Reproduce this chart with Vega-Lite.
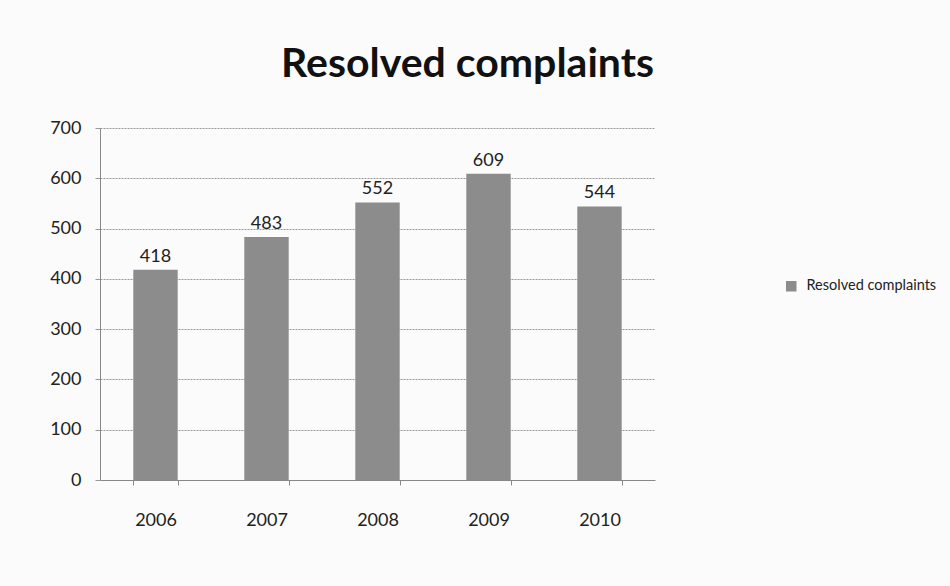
{
  "$schema": "https://vega.github.io/schema/vega-lite/v6.json",
  "autosize": "none",
  "width": 555,
  "height": 352,
  "padding": {"left": 100, "top": 128, "right": 295, "bottom": 106},
  "background": "#fbfbfb",
  "title": {
    "text": "Resolved complaints",
    "fontSize": 41,
    "font": "Lato",
    "fontWeight": "bold",
    "color": "#111111",
    "anchor": "middle",
    "dx": 90,
    "offset": 33
  },
  "data": {
    "values": [
      {"year": "2006", "value": 418, "series": "Resolved complaints"},
      {"year": "2007", "value": 483, "series": "Resolved complaints"},
      {"year": "2008", "value": 552, "series": "Resolved complaints"},
      {"year": "2009", "value": 609, "series": "Resolved complaints"},
      {"year": "2010", "value": 544, "series": "Resolved complaints"}
    ]
  },
  "config": {
    "view": {"stroke": null},
    "font": "Lato"
  },
  "encoding": {
    "x": {
      "field": "year",
      "type": "nominal",
      "scale": {"paddingInner": 0.6, "paddingOuter": 0.3},
      "axis": {
        "title": null,
        "labelAngle": 0,
        "labelFontSize": 18,
        "labelColor": "#222222",
        "labelPadding": 26,
        "domainColor": "#888888",
        "tickColor": "#888888",
        "tickBand": "extent",
        "tickSize": 5,
        "grid": false
      }
    },
    "y": {
      "field": "value",
      "type": "quantitative",
      "scale": {"domain": [0, 700]},
      "axis": {
        "title": null,
        "values": [0, 100, 200, 300, 400, 500, 600, 700],
        "labelFontSize": 18,
        "labelColor": "#222222",
        "labelPadding": 14,
        "domainColor": "#888888",
        "tickColor": "#999999",
        "tickSize": 5,
        "gridColor": "#999999",
        "gridDash": [2, 1],
        "gridWidth": 1
      }
    }
  },
  "layer": [
    {
      "mark": {"type": "bar", "color": "#8c8c8c"},
      "encoding": {
        "color": {
          "field": "series",
          "type": "nominal",
          "scale": {"range": ["#8c8c8c"]},
          "legend": {
            "title": null,
            "orient": "none",
            "legendX": 684,
            "legendY": 151,
            "symbolType": "square",
            "symbolSize": 110,
            "labelFontSize": 14.5,
            "labelFontWeight": "normal",
            "labelColor": "#222222",
            "labelOffset": 8,
            "labelLimit": 250
          }
        }
      }
    },
    {
      "mark": {"type": "text", "dy": -13, "fontSize": 18, "color": "#222222"},
      "encoding": {"text": {"field": "value", "type": "quantitative"}}
    }
  ]
}
